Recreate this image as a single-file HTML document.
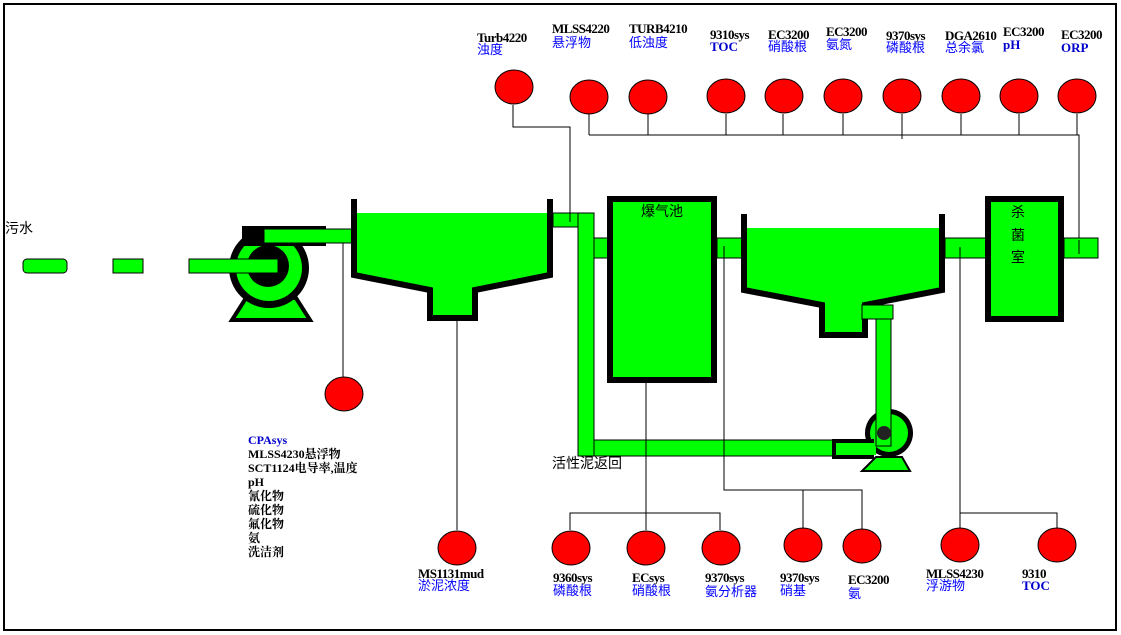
<!DOCTYPE html>
<html><head><meta charset="utf-8"><style>
html,body{margin:0;padding:0;background:#fff;}
svg{display:block}
.b{font-family:"Liberation Serif","Noto Serif CJK SC",serif;font-weight:bold;font-size:13px;fill:#000;letter-spacing:-0.5px}
.c{font-family:"Liberation Sans","Noto Sans CJK SC",sans-serif;font-size:13px;fill:#0000ff}
.bb{font-family:"Liberation Serif",serif;font-weight:bold;font-size:13px;fill:#0000cc}
.k{font-family:"Liberation Sans","Noto Sans CJK SC",sans-serif;font-size:14px;fill:#000}
.l{font-family:"Liberation Serif","Noto Serif CJK SC",serif;font-weight:bold;font-size:12px;fill:#000}
</style></head><body>
<svg width="1121" height="635" viewBox="0 0 1121 635" xmlns="http://www.w3.org/2000/svg">
<rect x="4" y="4" width="1112" height="626" fill="#fff" stroke="#000" stroke-width="2"/>
<g stroke="#000" stroke-width="1" fill="none">
<polyline points="513,105 513,127 570,127 570,222"/>
<line x1="589" y1="114" x2="589" y2="135"/>
<line x1="648" y1="114" x2="648" y2="135"/>
<line x1="726" y1="114" x2="726" y2="135"/>
<line x1="783" y1="114" x2="783" y2="135"/>
<line x1="843" y1="114" x2="843" y2="135"/>
<line x1="902" y1="114" x2="902" y2="139"/>
<line x1="961" y1="114" x2="961" y2="135"/>
<line x1="1019" y1="114" x2="1019" y2="135"/>
<polyline points="1077,114 1077,135 1079,135 1079,254"/>
<line x1="589" y1="135" x2="1079" y2="135"/>
<line x1="343" y1="240" x2="343" y2="378"/>
<line x1="457" y1="315" x2="457" y2="530"/>
<line x1="646" y1="383" x2="646" y2="530"/>
<polyline points="570,530 570,513 720,513 720,530"/>
<polyline points="724,245 724,490 862,490 862,530"/>
<line x1="803" y1="490" x2="803" y2="528"/>
<line x1="960" y1="247" x2="960" y2="530"/>
<polyline points="960,513 1057,513 1057,528"/>
</g>
<rect x="23" y="259" width="44" height="14" rx="4" fill="#00ff00" stroke="#000"/>
<rect x="113" y="259" width="30" height="14" fill="#00ff00" stroke="#000"/>
<polygon points="246,298 296,298 310,320 232,320" fill="#00ff00" stroke="#000" stroke-width="4"/>
<circle cx="269" cy="268" r="40" fill="#000"/>
<circle cx="269" cy="268" r="33" fill="#00ff00"/>
<circle cx="268" cy="266" r="21" fill="#000"/>
<rect x="242" y="226" width="84" height="20" fill="#000"/>
<rect x="189" y="259" width="89" height="14" fill="#00ff00" stroke="#000"/>
<rect x="264" y="229" width="90" height="14" fill="#00ff00" stroke="#000"/>
<polygon points="355,213 550,213 550,275 475,290 475,318 430,318 430,290 355,275" fill="#00ff00"/>
<polyline points="354,199 354,275 430,290 430,318 475,318 475,290 550,275 550,199" fill="none" stroke="#000" stroke-width="6"/>
<rect x="553" y="213" width="41" height="14" fill="#00ff00" stroke="#000"/>
<rect x="594" y="238" width="16" height="20" fill="#00ff00" stroke="#000"/>
<rect x="578" y="213" width="16" height="243" fill="#00ff00" stroke="#000"/>
<rect x="594" y="440" width="244" height="16" fill="#00ff00" stroke="#000"/>
<line x1="570" y1="195" x2="570" y2="222" stroke="#000"/>
<line x1="646" y1="383" x2="646" y2="456" stroke="#000"/>
<line x1="724" y1="380" x2="724" y2="456" stroke="#000"/>
<rect x="717" y="238" width="28" height="20" fill="#00ff00" stroke="#000"/>
<rect x="945" y="238" width="41" height="20" fill="#00ff00" stroke="#000"/>
<rect x="1064" y="238" width="34" height="20" fill="#00ff00" stroke="#000"/>
<line x1="1079" y1="240" x2="1079" y2="254" stroke="#000"/>
<line x1="724" y1="246" x2="724" y2="258" stroke="#000"/>
<line x1="960" y1="247" x2="960" y2="258" stroke="#000"/>
<rect x="610" y="199" width="104" height="181" fill="#00ff00" stroke="#000" stroke-width="6"/>
<text x="662" y="216" class="k" text-anchor="middle">爆气池</text>
<polygon points="745,228 942,228 942,290 865,305 865,335 822,335 822,305 745,290" fill="#00ff00"/>
<polyline points="744,214 744,290 822,305 822,335 865,335 865,305 942,290 942,214" fill="none" stroke="#000" stroke-width="6"/>
<rect x="988" y="199" width="73" height="120" fill="#00ff00" stroke="#000" stroke-width="6"/>
<text x="1018" y="217" class="k" text-anchor="middle">杀</text>
<text x="1018" y="240" class="k" text-anchor="middle">菌</text>
<text x="1018" y="262" class="k" text-anchor="middle">室</text>
<polygon points="876,457 902,457 910,471 862,471" fill="#00ff00" stroke="#000" stroke-width="2"/>
<circle cx="889" cy="433" r="24" fill="#000"/>
<circle cx="889" cy="433" r="19" fill="#00ff00"/>
<rect x="832" y="439" width="42" height="20" fill="#000"/>
<rect x="836" y="443" width="40" height="12" fill="#00ff00"/>
<rect x="862" y="305" width="31" height="14" fill="#00ff00" stroke="#000"/>
<rect x="876" y="319" width="15" height="127" fill="#00ff00" stroke="#000"/>
<circle cx="884" cy="433" r="7" fill="#222"/>
<g fill="#ff0000" stroke="#000" stroke-width="1">
<ellipse cx="514" cy="87" rx="19" ry="17"/>
<ellipse cx="589" cy="97" rx="19" ry="17"/>
<ellipse cx="648" cy="97" rx="19" ry="17"/>
<ellipse cx="726" cy="96" rx="19" ry="17"/>
<ellipse cx="784" cy="96" rx="19" ry="17"/>
<ellipse cx="843" cy="96" rx="19" ry="17"/>
<ellipse cx="902" cy="96" rx="19" ry="17"/>
<ellipse cx="961" cy="96" rx="19" ry="17"/>
<ellipse cx="1019" cy="96" rx="19" ry="17"/>
<ellipse cx="1077" cy="96" rx="19" ry="17"/>
<ellipse cx="344" cy="394" rx="19" ry="17"/>
<ellipse cx="457" cy="548" rx="19" ry="17"/>
<ellipse cx="571" cy="548" rx="19" ry="17"/>
<ellipse cx="646" cy="548" rx="19" ry="17"/>
<ellipse cx="721" cy="548" rx="19" ry="17"/>
<ellipse cx="803" cy="545" rx="19" ry="17"/>
<ellipse cx="862" cy="546" rx="19" ry="17"/>
<ellipse cx="960" cy="545" rx="19" ry="17"/>
<ellipse cx="1057" cy="545" rx="19" ry="17"/>
</g>
<text x="5" y="233" class="k">污水</text>
<text x="552" y="468" class="k">活性泥返回</text>
<text x="477" y="42" class="b">Turb4220</text><text x="477" y="54" class="c">浊度</text>
<text x="552" y="33" class="b">MLSS4220</text><text x="552" y="47" class="c">悬浮物</text>
<text x="629" y="33" class="b">TURB4210</text><text x="629" y="47" class="c">低浊度</text>
<text x="710" y="39" class="b">9310sys</text><text x="710" y="51" class="bb">TOC</text>
<text x="768" y="39" class="b">EC3200</text><text x="768" y="51" class="c">硝酸根</text>
<text x="826" y="36" class="b">EC3200</text><text x="826" y="49" class="c">氨氮</text>
<text x="886" y="40" class="b">9370sys</text><text x="886" y="52" class="c">磷酸根</text>
<svg x="944" y="26" width="56" height="30" overflow="hidden"><text x="1" y="14" class="b">DGA2610</text><text x="1" y="26" class="c">总余氯</text></svg>
<text x="1003" y="36" class="b">EC3200</text><text x="1003" y="49" class="bb">pH</text>
<text x="1061" y="39" class="b">EC3200</text><text x="1061" y="52" class="bb">ORP</text>
<text x="248" y="444" class="bb" style="font-size:12px">CPAsys</text>
<text x="248" y="458" class="l">MLSS4230悬浮物</text>
<text x="248" y="472" class="l">SCT1124电导率,温度</text>
<text x="248" y="486" class="l">pH</text>
<text x="248" y="500" class="l">氰化物</text>
<text x="248" y="514" class="l">硫化物</text>
<text x="248" y="528" class="l">氟化物</text>
<text x="248" y="542" class="l">氨</text>
<text x="248" y="556" class="l">洗洁剂</text>
<text x="418" y="578" class="b">MS1131mud</text><text x="418" y="590" class="c">淤泥浓度</text>
<text x="553" y="582" class="b">9360sys</text><text x="553" y="595" class="c">磷酸根</text>
<text x="632" y="582" class="b">ECsys</text><text x="632" y="595" class="c">硝酸根</text>
<text x="705" y="582" class="b">9370sys</text><text x="705" y="596" class="c">氨分析器</text>
<text x="780" y="582" class="b">9370sys</text><text x="780" y="595" class="c">硝基</text>
<text x="848" y="584" class="b">EC3200</text><text x="848" y="598" class="c">氨</text>
<text x="926" y="578" class="b">MLSS4230</text><text x="926" y="590" class="c">浮游物</text>
<text x="1022" y="578" class="b">9310</text><text x="1022" y="590" class="bb">TOC</text>
</svg>
</body></html>
